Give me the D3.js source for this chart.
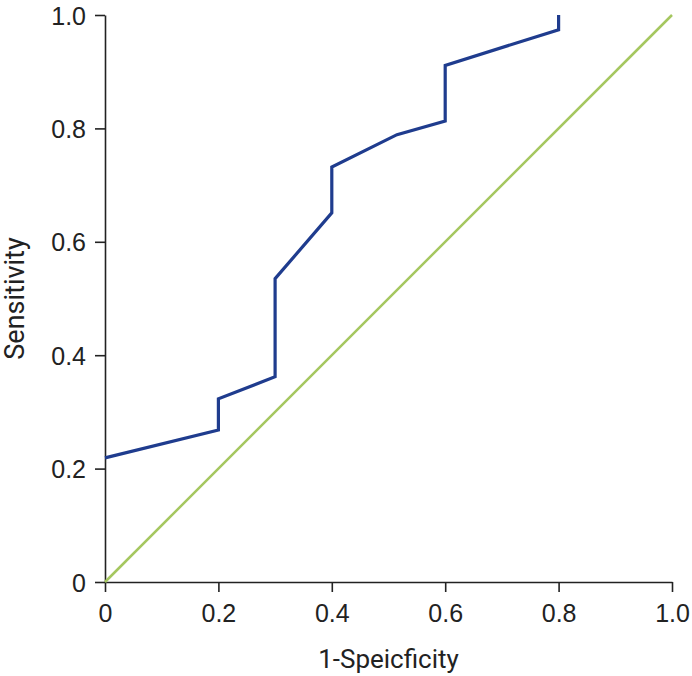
<!DOCTYPE html>
<html>
<head>
<meta charset="utf-8">
<script src="https://cdnjs.cloudflare.com/ajax/libs/d3/7.8.5/d3.min.js"></script>
<style>
body{margin:0;background:#fff;}
</style>
</head>
<body>
<div id="chart"></div>
<script>
// ROC curve values
var fpr = [0, 0.2, 0.2, 0.3, 0.3, 0.4, 0.4, 0.515, 0.6, 0.6, 0.8, 0.8];
var tpr = [0.219, 0.268, 0.323, 0.362, 0.535, 0.651, 0.732, 0.789, 0.813, 0.911, 0.974, 1.0];
var refX = [0, 1];
var refY = [0, 1];
var tickVals = [0, 0.2, 0.4, 0.6, 0.8, 1.0];

var width = 692, height = 676;
var marge = {top:15, left:105, right:20, bottom:94};

var svg = d3.select("#chart").append("svg")
    .attr("width", width)
    .attr("height", height);

var x = d3.scaleLinear().domain([0,1]).range([marge.left, marge.left+567]);
var y = d3.scaleLinear().domain([0,1]).range([582, 582-567]);

function fmt(d){ return d==0 ? "0" : d.toFixed(1); }

var xAxis = svg.append("g")
    .attr("transform","translate(0,"+y(0)+")")
    .call(d3.axisBottom(x).tickValues(tickVals).tickFormat(fmt).tickSize(10).tickSizeOuter(0));
var yAxis = svg.append("g")
    .attr("transform","translate("+x(0)+",0)")
    .call(d3.axisLeft(y).tickValues(tickVals).tickFormat(fmt).tickSize(10).tickSizeOuter(0));

[xAxis, yAxis].forEach(function(a){
    a.select(".domain").attr("stroke","#222").attr("stroke-width",1.6);
    a.selectAll(".tick line").attr("stroke","#222").attr("stroke-width",1.6);
    a.selectAll(".tick text")
        .attr("fill","#222")
        .style("font-family","'Liberation Sans', Arial, sans-serif")
        .style("font-size","25px");
});
xAxis.selectAll(".tick text").attr("dy","0").attr("y",40);
yAxis.selectAll(".tick text").attr("x",-19).attr("dy","0.36em");

// reference diagonal
var line = d3.line().x(function(d){return x(d[0]);}).y(function(d){return y(d[1]);});
svg.append("path")
    .datum(d3.zip(refX, refY))
    .attr("d", line)
    .attr("fill","none")
    .attr("stroke","#a5c75f")
    .attr("stroke-width",2.5);

// ROC curve
svg.append("path")
    .datum(d3.zip(fpr, tpr))
    .attr("d", line)
    .attr("fill","none")
    .attr("stroke","#1f3c8e")
    .attr("stroke-width",3.2)
    .attr("stroke-linejoin","miter");

// axis titles
svg.append("text")
    .attr("x", (x(0)+x(1))/2)
    .attr("y", 668)
    .attr("text-anchor","middle")
    .attr("fill","#222")
    .style("font-family","Roboto, sans-serif")
    .style("font-size","26px")
    .text("1-Speicficity");

svg.append("text")
    .attr("transform","translate(24,"+((y(0)+y(1))/2)+") rotate(-90)")
    .attr("text-anchor","middle")
    .attr("fill","#222")
    .style("font-family","Roboto, sans-serif")
    .style("font-size","27px")
    .text("Sensitivity");
</script>
</body>
</html>
